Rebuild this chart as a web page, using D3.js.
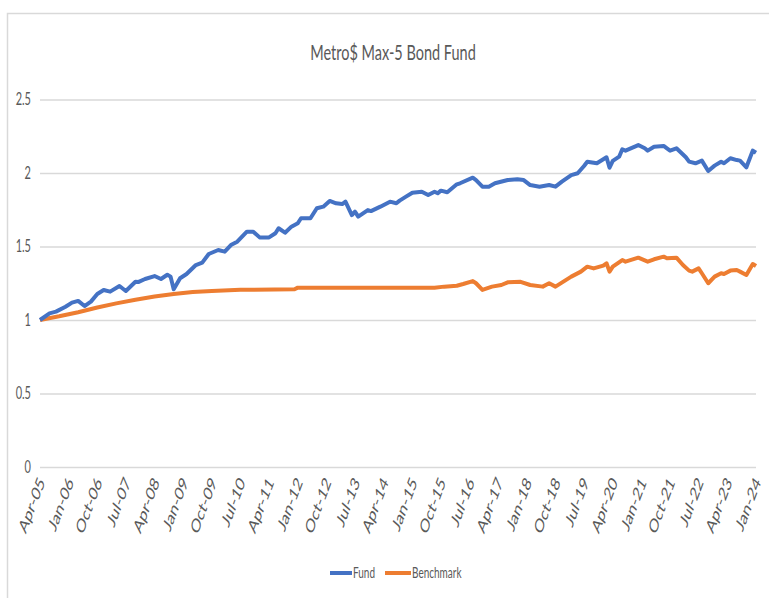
<!DOCTYPE html>
<html>
<head>
<meta charset="utf-8">
<script src="https://cdn.jsdelivr.net/npm/d3@7"></script>
<style>
body { margin: 0; background: #fff; }
text { font-family: Lato, "Liberation Sans", sans-serif; fill: #595959; }
</style>
</head>
<body>
<div id="chart"></div>
<script>
var title = "Metro$ Max-5 Bond Fund";
var yTicks = [0, 0.5, 1, 1.5, 2, 2.5];
var xTickLabels = ["Apr-05","Jan-06","Oct-06","Jul-07","Apr-08","Jan-09","Oct-09","Jul-10","Apr-11",
	"Jan-12","Oct-12","Jul-13","Apr-14","Jan-15","Oct-15","Jul-16","Apr-17","Jan-18","Oct-18",
	"Jul-19","Apr-20","Jan-21","Oct-21","Jul-22","Apr-23","Jan-24"];
var seriesNames = ["Fund", "Benchmark"];
var seriesColors = ["#4472C4", "#ED7D31"];

// month, growth of 1
var fund = [["2005-04",1.00],["2005-07",1.045],["2005-09",1.057],["2005-12",1.09],["2006-02",1.118],
	["2006-04",1.13],["2006-06",1.095],["2006-08",1.125],["2006-10",1.177],["2006-12",1.204],["2007-02",1.193],
	["2007-05",1.231],["2007-07",1.197],["2007-10",1.26],["2007-11",1.259],["2008-01",1.279],["2008-04",1.299],
	["2008-06",1.279],["2008-08",1.308],["2008-09",1.295],["2008-10",1.209],["2008-12",1.284],["2009-02",1.313],
	["2009-05",1.374],["2009-07",1.39],["2009-09",1.449],["2009-12",1.476],["2010-02",1.465],["2010-04",1.51],
	["2010-06",1.533],["2010-09",1.601],["2010-11",1.601],["2011-01",1.562],["2011-04",1.562],["2011-06",1.59],
	["2011-07",1.624],["2011-09",1.594],["2011-11",1.635],["2012-01",1.658],["2012-02",1.692],["2012-05",1.692],
	["2012-07",1.76],["2012-09",1.771],["2012-11",1.81],["2013-01",1.794],["2013-03",1.789],["2013-04",1.805],
	["2013-06",1.714],["2013-07",1.737],["2013-08",1.703],["2013-11",1.748],["2013-12",1.741],["2014-03",1.771],
	["2014-06",1.805],["2014-08",1.794],["2014-09",1.812],["2014-11",1.839],["2015-01",1.866],["2015-04",1.873],
	["2015-06",1.85],["2015-08",1.873],["2015-09",1.862],["2015-10",1.88],["2015-12",1.869],["2016-03",1.923],
	["2016-04",1.93],["2016-08",1.968],["2016-09",1.952],["2016-11",1.907],["2017-01",1.907],["2017-03",1.93],
	["2017-07",1.952],["2017-10",1.957],["2017-12",1.952],["2018-02",1.918],["2018-05",1.907],["2018-08",1.918],
	["2018-10",1.907],["2018-12",1.941],["2019-03",1.986],["2019-05",1.998],["2019-07",2.048],["2019-08",2.077],
	["2019-11",2.066],["2020-02",2.107],["2020-03",2.036],["2020-04",2.082],["2020-06",2.111],["2020-07",2.161],
	["2020-08",2.152],["2020-12",2.19],["2021-02",2.168],["2021-03",2.152],["2021-05",2.179],["2021-08",2.184],
	["2021-09",2.168],["2021-10",2.152],["2021-12",2.168],["2022-03",2.107],["2022-04",2.077],["2022-06",2.066],
	["2022-08",2.084],["2022-10",2.014],["2022-12",2.05],["2023-02",2.077],["2023-03",2.066],["2023-05",2.1],
	["2023-07",2.088],["2023-08",2.084],["2023-10",2.039],["2023-12",2.152],["2024-01",2.138]];

var benchmark = [["2005-04",1.00],["2005-10",1.025],["2006-04",1.053],["2006-10",1.085],["2007-04",1.113],
	["2007-10",1.138],["2008-04",1.16],["2008-10",1.177],["2009-04",1.19],["2009-10",1.198],["2010-07",1.205],
	["2011-12",1.209],["2012-01",1.22],["2015-08",1.22],["2015-11",1.227],["2016-03",1.233],["2016-05",1.245],
	["2016-08",1.265],["2016-09",1.25],["2016-11",1.205],["2017-02",1.227],["2017-05",1.238],["2017-07",1.256],
	["2017-11",1.26],["2018-02",1.238],["2018-06",1.227],["2018-08",1.25],["2018-10",1.227],["2019-03",1.295],
	["2019-06",1.329],["2019-08",1.363],["2019-10",1.351],["2020-01",1.37],["2020-02",1.386],["2020-03",1.329],
	["2020-04",1.363],["2020-07",1.408],["2020-08",1.397],["2020-12",1.424],["2021-03",1.397],["2021-05",1.413],
	["2021-08",1.431],["2021-09",1.42],["2021-12",1.424],["2022-02",1.374],["2022-04",1.336],["2022-05",1.329],
	["2022-07",1.351],["2022-08",1.318],["2022-10",1.25],["2022-12",1.295],["2023-02",1.318],["2023-03",1.313],
	["2023-05",1.336],["2023-07",1.34],["2023-08",1.329],["2023-10",1.306],["2023-12",1.381],["2024-01",1.367]];

var width = 769, height = 598;
var stretch = 1.5; // the picture's text is tall and narrow
var parseMonth = d3.timeParse("%Y-%m");
var parseLabel = d3.timeParse("%b-%y");

var svg = d3.select('#chart')
	.append('svg')
	.attr('width', width)
	.attr('height', height);

// chart area border
svg.append('rect')
	.attr('x', 7.5).attr('y', 13.5)
	.attr('width', 800).attr('height', 700)
	.attr('fill', 'none')
	.attr('stroke', '#d9d9d9')
	.attr('stroke-width', 1.5);

var x = d3.scaleTime()
	.domain([parseMonth("2005-04"), parseMonth("2024-01")])
	.range([40, 756]);

var y = d3.scaleLinear()
	.domain([0, 2.5])
	.range([467, 99.5]);

svg.append('text')
	.attr('transform', 'translate(393,60) scale(1,' + stretch + ')')
	.attr('text-anchor', 'middle')
	.style('font-size', '14.5px')
	.text(title);

var yAxis = svg.append('g')
	.attr('transform', 'translate(40,0)')
	.call(d3.axisLeft(y).tickValues(yTicks).tickSize(-716).tickPadding(9).tickFormat(d3.format("")));
yAxis.select('.domain').remove();
yAxis.selectAll('line').attr('stroke', '#d9d9d9').attr('stroke-width', 1.5);
yAxis.selectAll('text')
	.style('font-size', '11px')
	.style('font-family', null)
	.attr('fill', null)
	.attr('transform', 'scale(1,' + stretch + ')');

var xAxis = svg.append('g')
	.attr('transform', 'translate(0,467)')
	.call(d3.axisBottom(x).tickValues(xTickLabels.map(parseLabel)).tickSize(0).tickFormat(d3.timeFormat("%b-%y")));
xAxis.select('.domain').remove();
xAxis.selectAll('text')
	.attr('fill', null)
	.style('font-family', null)
	.style('font-size', '12.5px')
	.attr('text-anchor', 'end')
	.attr('dy', '0.35em')
	.attr('y', 0)
	.attr('transform', 'translate(1,12) scale(1,1.55) rotate(-60)');

var line = d3.line()
	.x(function(d){ return x(parseMonth(d[0])); })
	.y(function(d){ return y(d[1]); });

[benchmark, fund].forEach(function(series, i){
	svg.append('path')
		.datum(series)
		.attr('fill', 'none')
		.attr('stroke', seriesColors[1 - i])
		.attr('stroke-width', 4)
		.attr('stroke-linejoin', 'round')
		.attr('d', line);
});

// legend
var legendX = [330, 385];
var legendW = [22, 26];
seriesNames.forEach(function(name, i){
	svg.append('line')
		.attr('x1', legendX[i]).attr('x2', legendX[i] + legendW[i])
		.attr('y1', 573).attr('y2', 573)
		.attr('stroke', seriesColors[i])
		.attr('stroke-width', 4);
	svg.append('text')
		.attr('transform', 'translate(' + (legendX[i] + legendW[i] + 1) + ',573) scale(1,' + stretch + ')')
		.attr('dy', '0.35em')
		.style('font-size', '10px')
		.text(name);
});
</script>
</body>
</html>
